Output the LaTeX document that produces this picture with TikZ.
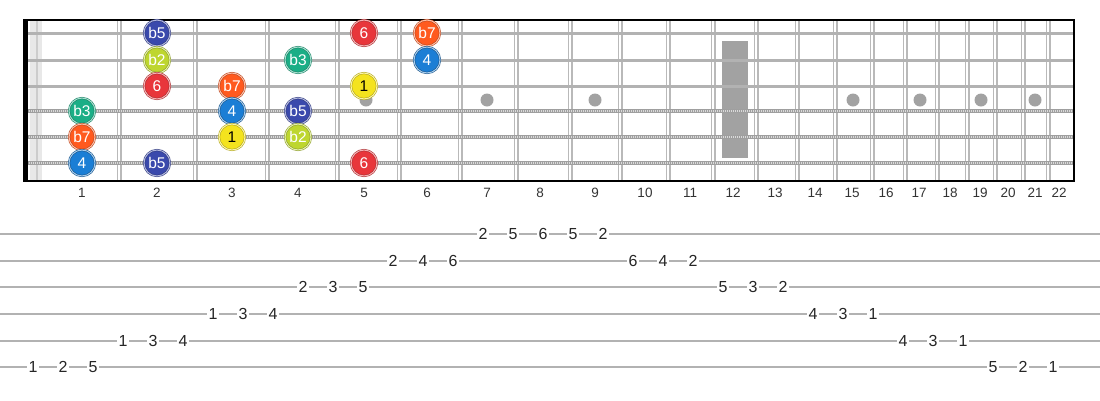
\documentclass[tikz,border=0pt]{standalone}
\usepackage{fontspec}
\setmainfont{Liberation Sans}

\definecolor{rootyellow}{HTML}{F4E31E}
\definecolor{flattwo}{HTML}{BED62F}
\definecolor{flatthree}{HTML}{1BAE86}
\definecolor{fourblue}{HTML}{1B7ED5}
\definecolor{flatfive}{HTML}{3A49AC}
\definecolor{sixred}{HTML}{E8363B}
\definecolor{flatseven}{HTML}{FF5A1F}
\definecolor{inlaygray}{HTML}{A2A2A2}

\tikzset{
    deg/.style={circle,minimum size=26pt,inner sep=0pt,text=white,
        font=\fontsize{15.5}{15.5}\selectfont,line width=0.5pt,double distance=1.1pt},
    d1/.style={deg,fill=rootyellow,draw=rootyellow!70!black,double=rootyellow!40!white,text=black},
    db2/.style={deg,fill=flattwo,draw=flattwo!70!black,double=flattwo!40!white},
    db3/.style={deg,fill=flatthree,draw=flatthree!70!black,double=flatthree!40!white},
    d4/.style={deg,fill=fourblue,draw=fourblue!60!black,double=fourblue!40!white},
    db5/.style={deg,fill=flatfive,draw=flatfive!70!black,double=flatfive!40!white},
    d6/.style={deg,fill=sixred,draw=sixred!70!black,double=sixred!40!white},
    db7/.style={deg,fill=flatseven,draw=flatseven!70!black,double=flatseven!40!white},
}

\begin{document}
\begin{tikzpicture}[x=1pt,y=-1pt]
    \useasboundingbox (0,0) rectangle (1100,400);

    % nut strip and frets
    \fill[gray!18] (30,20) rectangle (42,181);
    \draw[gray!40,line width=1.5pt] (37,20) -- (37,181);
    \foreach \x in {119,195,267,337,399,460,516,570,620,668,713,756,797,835,872,905,937,967,995,1023,1048} {
        \draw[gray!55,line width=5pt] (\x,20) -- (\x,181);
        \draw[white,line width=2.2pt] (\x,20) -- (\x,181);
    }

    % inlays
    \foreach \x in {232,366,487,595,853,920,981,1035}
        \fill[inlaygray] (\x,100) circle (6.5pt);
    \fill[inlaygray] (722,41) rectangle (748,158);

    % strings
    \foreach \y in {33,60,86}
        \draw[gray!60,line width=3pt] (23,\y) -- (1074,\y);
    \foreach \y in {111,137,163} {
        \draw[gray!75,line width=4.2pt] (23,\y) -- (1074,\y);
        \draw[gray!30,line width=2.2pt,dash pattern=on 0.9pt off 1.1pt] (23,\y) -- (1074,\y);
    }

    % border
    \fill[black] (23,20) rectangle (28,181);
    \draw[black,line width=1.5pt] (23,20) -- (1074,20) -- (1074,181) -- (23,181);

    % fret numbers
    \begin{scope}[every node/.style={font=\fontsize{13.5}{14}\selectfont,text=black!80}]
        \foreach \x [count=\n] in {82,157,232,298,364,427,487,540,595,645,690,733,775,815,852,886,919,950,980,1008,1035,1059}
            \node (fn\n) at (\x,193) {\n};
    \end{scope}

    % scale degrees
    \node[db5] (s1f2) at (157,33) {b5};
    \node[d6]  (s1f5) at (364,33) {6};
    \node[db7] (s1f6) at (427,33) {b7};

    \node[db2] (s2f2) at (157,60) {b2};
    \node[db3] (s2f4) at (298,60) {b3};
    \node[d4]  (s2f6) at (427,60) {4};

    \node[d6]  (s3f2) at (157,86) {6};
    \node[db7] (s3f3) at (232,86) {b7};
    \node[d1]  (s3f5) at (364,86) {1};

    \node[db3] (s4f1) at (82,111) {b3};
    \node[d4]  (s4f3) at (232,111) {4};
    \node[db5] (s4f4) at (298,111) {b5};

    \node[db7] (s5f1) at (82,137) {b7};
    \node[d1]  (s5f3) at (232,137) {1};
    \node[db2] (s5f4) at (298,137) {b2};

    \node[d4]  (s6f1) at (82,163) {4};
    \node[db5] (s6f2) at (157,163) {b5};
    \node[d6]  (s6f5) at (364,163) {6};

    % tab
    \foreach \s in {1,...,6}
        \draw[gray!60,line width=2.2pt] (0,{234+26.67*(\s-1)}) -- (1100,{234+26.67*(\s-1)});

    \begin{scope}[every node/.style={fill=white,inner sep=1.2pt,font=\fontsize{16}{16}\selectfont,text=black!85}]
        \foreach \s/\f [count=\i from 0] in {6/1,6/2,6/5,5/1,5/3,5/4,4/1,4/3,4/4,3/2,3/3,3/5,2/2,2/4,2/6,
                1/2,1/5,1/6,1/5,1/2,2/6,2/4,2/2,3/5,3/3,3/2,4/4,4/3,4/1,5/4,5/3,5/1,6/5,6/2,6/1}
            \node (t\i) at ({33+30*\i},{234+26.67*(\s-1)}) {\f};
    \end{scope}

\end{tikzpicture}
\end{document}
